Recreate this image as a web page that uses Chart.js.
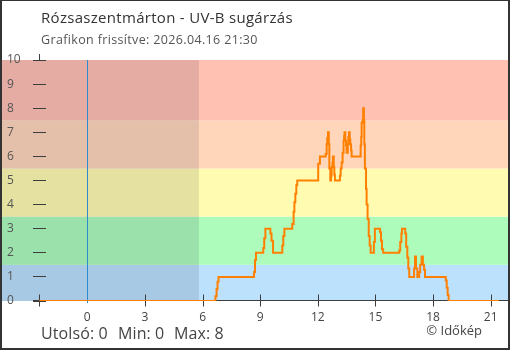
<!DOCTYPE html>
<html>
<head>
<meta charset="utf-8">
<script src="https://cdn.jsdelivr.net/npm/chart.js@4"></script>
<style>
  html, body { margin: 0; padding: 0; background: #fff; }
  canvas { display: block; }
</style>
</head>
<body>
<canvas id="uv" width="510" height="350"></canvas>
<script>
// UV-B readings, stepped: each value holds from its time until the next one
const uvTimes = [
    -2.5, 6.67, 6.73, 6.78, 6.83, 8.68, 8.73, 8.78, 9.16, 9.21, 9.27, 9.53, 9.59, 9.67,
    10.15, 10.20, 10.26, 10.67, 10.74, 10.78, 10.83, 10.88, 10.93,
    12.02, 12.11, 12.41, 12.46, 12.49, 12.53, 12.57, 12.60, 12.65, 12.69, 12.72, 12.76, 12.79, 12.83, 12.86, 12.89,
    13.15, 13.19, 13.24, 13.29, 13.34, 13.37, 13.39, 13.43, 13.47, 13.50, 13.56, 13.59, 13.62, 13.66, 13.69, 13.73, 13.76,
    14.23, 14.26, 14.28, 14.33, 14.36, 14.40, 14.42, 14.45, 14.51, 14.54, 14.59, 14.65, 14.70, 14.75, 14.92, 14.97,
    15.24, 15.29, 15.34, 15.40, 16.24, 16.29, 16.35, 16.38, 16.55, 16.60, 16.66, 16.71, 16.76,
    17.01, 17.06, 17.11, 17.18, 17.28, 17.33, 17.40, 17.47, 17.53, 17.58,
    18.66, 18.71, 18.76, 18.81, 21.42
];
const uvValues = [
    0, 0.2, 0.5, 0.8, 1.0, 1.2, 1.7, 2.0, 2.2, 2.6, 3.0, 2.8, 2.5, 2.0,
    2.3, 2.7, 3.0, 3.2, 3.7, 4.1, 4.45, 4.8, 5.0,
    5.7, 6.0, 6.1, 6.5, 6.75, 7.0, 6.5, 5.5, 5.0, 5.2, 5.55, 5.75, 6.0, 5.55, 5.25, 5.0,
    5.2, 5.5, 5.75, 6.15, 6.65, 6.85, 7.0, 6.65, 6.45, 6.15, 6.5, 6.8, 7.0, 6.7, 6.5, 6.25, 6.0,
    6.45, 6.8, 7.4, 7.5, 8.0, 7.5, 6.5, 5.5, 4.65, 4.0, 3.4, 2.7, 2.3, 2.0, 2.45, 3.0,
    2.85, 2.5, 2.15, 2.0, 2.1, 2.45, 2.8, 3.0, 2.8, 2.25, 1.8, 1.35, 1.0,
    1.35, 1.85, 1.35, 1.0, 1.2, 1.5, 1.85, 1.5, 1.3, 1.0,
    0.85, 0.55, 0.25, 0, 0
];

// background bands (UV levels)
const bandEdges = [0, 1.5, 3.5, 5.5, 7.5, 10];
const bandColors = ['#bbe1fc', '#adfcbc', '#fffcb1', '#ffd6ba', '#ffc1b2'];

const xTicks = [-2.5, 0, 3, 6, 9, 12, 15, 18, 21];
const yTicks = [0, 1, 2, 3, 4, 5, 6, 7, 8, 9, 10];
const midnight = 0;
const sunrise = 5.81;

const titleText = 'Rózsaszentmárton - UV-B sugárzás';
const subtitleText = 'Grafikon frissítve: 2026.04.16 21:30';
const creditText = '© Időkép';

const FONT = '"Open Sans", sans-serif';
Chart.defaults.font.family = FONT;

const lastVal = uvValues[uvValues.length - 1];
const minVal = Math.min(...uvValues);
const maxVal = Math.max(...uvValues);

const decorPlugin = {
    id: 'decor',
    beforeDraw(chart) {
        const { ctx, chartArea: a, scales: { x, y } } = chart;
        ctx.save();
        // UV bands across the full width
        for (let i = 0; i < bandColors.length; i++) {
            const top = y.getPixelForValue(bandEdges[i + 1]);
            const bot = y.getPixelForValue(bandEdges[i]);
            ctx.fillStyle = bandColors[i];
            ctx.fillRect(a.left, top, a.right - a.left, bot - top);
        }
        // night shading up to sunrise
        const sx = x.getPixelForValue(sunrise);
        ctx.fillStyle = 'rgba(0, 0, 25, 0.105)';
        ctx.fillRect(a.left, a.top, sx - a.left, a.bottom - a.top);
        // midnight marker
        const mx = Math.round(x.getPixelForValue(midnight)) + 0.5;
        ctx.strokeStyle = '#2f8bd0';
        ctx.lineWidth = 1;
        ctx.beginPath();
        ctx.moveTo(mx, a.top);
        ctx.lineTo(mx, a.bottom + 2);
        ctx.stroke();

        // texts
        ctx.fillStyle = '#333';
        ctx.textBaseline = 'alphabetic';
        ctx.textAlign = 'left';
        ctx.letterSpacing = '0.3px';
        ctx.font = '15px ' + FONT;
        ctx.fillText(titleText, 41, 23);
        ctx.fillStyle = '#555';
        ctx.font = '12.5px ' + FONT;
        ctx.letterSpacing = '0.35px';
        ctx.fillText(subtitleText, 41, 44);
        ctx.fillStyle = '#444';
        ctx.font = '16px ' + FONT;
        ctx.letterSpacing = '0.1px';
        ctx.fillText('Utolsó: ' + lastVal, 41, 339);
        ctx.fillText('Min: ' + minVal, 118, 339);
        ctx.fillText('Max: ' + maxVal, 174, 339);
        ctx.font = '13px ' + FONT;
        ctx.letterSpacing = '0px';
        ctx.textAlign = 'right';
        ctx.fillText(creditText, 482, 335);
        ctx.restore();
    },
    beforeDatasetsDraw(chart) {
        const { ctx, chartArea: a, scales: { x, y } } = chart;
        const ax = Math.round(x.getPixelForValue(xTicks[0])) + 0.5;
        const y0 = Math.floor(y.getPixelForValue(0)) - 0.5;
        ctx.save();
        ctx.strokeStyle = '#3d3d3d';
        ctx.lineWidth = 1;
        ctx.beginPath();
        // y tick dashes
        for (const v of yTicks) {
            const py = Math.floor(y.getPixelForValue(v)) + 0.5;
            ctx.moveTo(ax - 6.5, py);
            ctx.lineTo(ax + 6.5, py);
        }
        // stub of the y axis above the top tick
        ctx.moveTo(ax, a.top - 6);
        ctx.lineTo(ax, a.top);
        // x axis line
        ctx.moveTo(ax - 6.5, y0);
        ctx.lineTo(a.right, y0);
        // x tick marks
        for (const v of xTicks) {
            if (v === midnight) continue;
            const px = Math.round(x.getPixelForValue(v)) + 0.5;
            ctx.moveTo(px, y0 - 6);
            ctx.lineTo(px, y0 + 6);
        }
        ctx.stroke();
        ctx.restore();
    },
    afterDraw(chart) {
        const { ctx, width, height } = chart;
        ctx.save();
        ctx.fillStyle = '#333';
        ctx.fillRect(0, 0, width, 1);
        ctx.fillRect(0, 0, 2, height);
        ctx.fillRect(width - 2, 0, 2, height);
        ctx.fillRect(0, height - 2, width, 2);
        ctx.restore();
    }
};

new Chart(document.getElementById('uv'), {
    type: 'line',
    data: {
        datasets: [{
            label: 'UV-B',
            data: uvTimes.map((t, i) => ({ x: t, y: uvValues[i] })),
            stepped: true,
            borderColor: '#ff8000',
            borderWidth: 2,
            pointRadius: 0,
            fill: false
        }]
    },
    options: {
        responsive: false,
        animation: false,
        layout: { padding: { top: 60, left: 2, right: 2, bottom: 29 } },
        plugins: {
            legend: { display: false },
            tooltip: { enabled: false }
        },
        scales: {
            x: {
                type: 'linear',
                min: -4.44,
                max: 21.9,
                afterFit: s => { s.height = 20; },
                afterBuildTicks: s => { s.ticks = xTicks.map(v => ({ value: v })); },
                grid: { display: false, drawTicks: false },
                border: { display: false },
                ticks: {
                    color: '#444',
                    font: { size: 12 },
                    padding: 9,
                    maxRotation: 0,
                    autoSkip: false,
                    callback: v => (v < 0 ? '' : String(v))
                }
            },
            y: {
                min: 0,
                max: 10,
                afterFit: s => { s.width = 0; },
                afterBuildTicks: s => { s.ticks = yTicks.map(v => ({ value: v })); },
                grid: { display: false, drawTicks: false },
                border: { display: false },
                ticks: {
                    mirror: true,
                    padding: 5,
                    color: '#555',
                    font: { size: 12 },
                    callback: v => String(v)
                }
            }
        }
    },
    plugins: [decorPlugin]
});
</script>
</body>
</html>
